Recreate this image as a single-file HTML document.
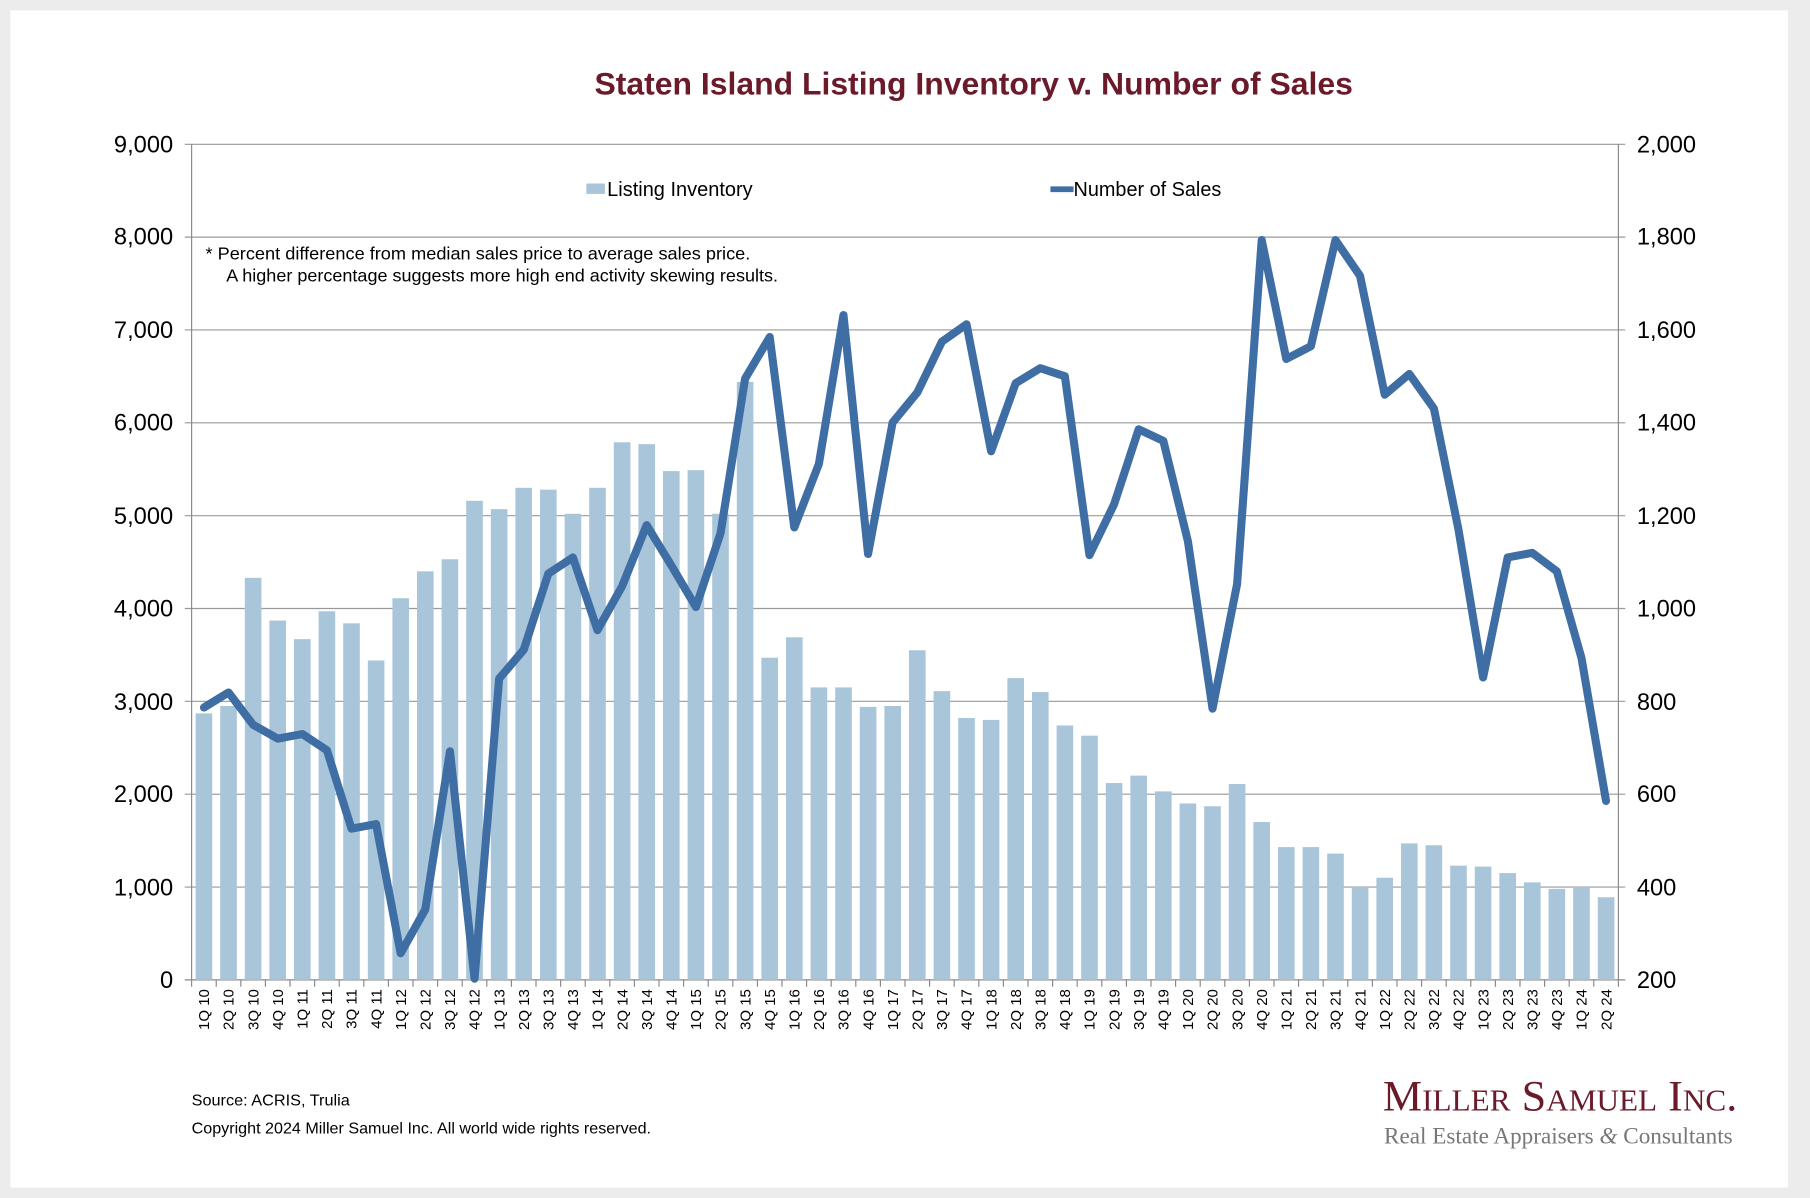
<!DOCTYPE html>
<html><head><meta charset="utf-8"><style>
html,body{margin:0;padding:0;background:#ececec;}
svg{display:block;}
text{font-family:"Liberation Sans",Arial,sans-serif;}
</style></head><body>
<svg id="s" width="1810" height="1198" viewBox="0 0 1568 1038" preserveAspectRatio="none" xmlns="http://www.w3.org/2000/svg">
<rect x="0" y="0" width="1568" height="1038" fill="#ececec"/>
<rect x="9" y="9" width="1540" height="1020" fill="#ffffff"/>
<text x="515" y="82" font-size="27.5" font-weight="bold" fill="#6b1a2a" textLength="657" lengthAdjust="spacingAndGlyphs">Staten Island Listing Inventory v. Number of Sales</text>
<g id="grid" stroke="#888" stroke-width="1"></g>
<g id="bars" fill="#a9c5da"></g>
<polyline id="ln" fill="none" stroke="#3f6ea4" stroke-width="7" stroke-linejoin="round" stroke-linecap="round"/>
<g font-size="20.5" fill="#000" text-anchor="end">
<text x="150" y="132">9,000</text><text x="150" y="212">8,000</text><text x="150" y="293">7,000</text><text x="150" y="373">6,000</text><text x="150" y="454">5,000</text><text x="150" y="534">4,000</text><text x="150" y="615">3,000</text><text x="150" y="695">2,000</text><text x="150" y="776">1,000</text><text x="150" y="856">0</text>
</g>
<g font-size="20.5" fill="#000">
<text x="1418" y="132">2,000</text><text x="1418" y="212">1,800</text><text x="1418" y="293">1,600</text><text x="1418" y="373">1,400</text><text x="1418" y="454">1,200</text><text x="1418" y="534">1,000</text><text x="1418" y="615">800</text><text x="1418" y="695">600</text><text x="1418" y="776">400</text><text x="1418" y="856">200</text>
</g>
<rect x="508" y="159" width="16" height="9" fill="#a9c5da"/>
<text x="526" y="170" font-size="17.3" textLength="126" lengthAdjust="spacingAndGlyphs">Listing Inventory</text>
<line x1="910" y1="164" x2="930" y2="164" stroke="#3f6ea4" stroke-width="5"/>
<text x="930" y="170" font-size="17.3" textLength="128" lengthAdjust="spacingAndGlyphs">Number of Sales</text>
<text x="178" y="225" font-size="15" textLength="472" lengthAdjust="spacingAndGlyphs">*  Percent difference from median sales price to average sales price.</text>
<text x="196" y="244" font-size="15" textLength="478" lengthAdjust="spacingAndGlyphs">A higher percentage suggests more high end activity skewing results.</text>
<g id="xl" font-size="13" text-anchor="end">
<text>1Q 10</text><text>2Q 10</text><text>3Q 10</text><text>4Q 10</text><text>1Q 11</text><text>2Q 11</text><text>3Q 11</text><text>4Q 11</text><text>1Q 12</text><text>2Q 12</text><text>3Q 12</text><text>4Q 12</text><text>1Q 13</text><text>2Q 13</text><text>3Q 13</text><text>4Q 13</text><text>1Q 14</text><text>2Q 14</text><text>3Q 14</text><text>4Q 14</text><text>1Q 15</text><text>2Q 15</text><text>3Q 15</text><text>4Q 15</text><text>1Q 16</text><text>2Q 16</text><text>3Q 16</text><text>4Q 16</text><text>1Q 17</text><text>2Q 17</text><text>3Q 17</text><text>4Q 17</text><text>1Q 18</text><text>2Q 18</text><text>3Q 18</text><text>4Q 18</text><text>1Q 19</text><text>2Q 19</text><text>3Q 19</text><text>4Q 19</text><text>1Q 20</text><text>2Q 20</text><text>3Q 20</text><text>4Q 20</text><text>1Q 21</text><text>2Q 21</text><text>3Q 21</text><text>4Q 21</text><text>1Q 22</text><text>2Q 22</text><text>3Q 22</text><text>4Q 22</text><text>1Q 23</text><text>2Q 23</text><text>3Q 23</text><text>4Q 23</text><text>1Q 24</text><text>2Q 24</text>
</g>
<text x="166" y="958" font-size="13.5" textLength="137" lengthAdjust="spacingAndGlyphs">Source: ACRIS, Trulia</text>
<text x="166" y="982" font-size="13.5" textLength="398" lengthAdjust="spacingAndGlyphs">Copyright 2024 Miller Samuel Inc.  All world wide rights reserved.</text>
<text x="1198" y="962" font-size="38" fill="#6b1a2a" style="font-family:'Liberation Serif',serif;font-variant:small-caps;" textLength="307" lengthAdjust="spacingAndGlyphs">Miller Samuel Inc.</text>
<text x="1199" y="991" font-size="20" fill="#777" style="font-family:'Liberation Serif',serif;" textLength="302" lengthAdjust="spacingAndGlyphs">Real Estate Appraisers <tspan font-style="italic">&amp;</tspan> Consultants</text>
</svg>
<script>
var NS="http://www.w3.org/2000/svg";
var L=166,R=1402,T=125,B=849,n=58,w=(R-L)/n;
var g=document.getElementById("grid");
function ln(x1,y1,x2,y2,c){var e=document.createElementNS(NS,"line");e.setAttribute("x1",x1);e.setAttribute("y1",y1);e.setAttribute("x2",x2);e.setAttribute("y2",y2);if(c)e.setAttribute("stroke",c);g.appendChild(e);}
for(var k=0;k<=9;k++){var y=T+(B-T)*k/9;ln(L-6,y,R+6,y,k==9?"#888":"#999");}
ln(L,T,L,B);ln(R,T,R,B);
for(var i=0;i<=n;i++){var x=L+w*i;ln(x,B,x,B+6);}
var inv=[2870,2950,4330,3870,3670,3970,3840,3440,4110,4400,4530,5160,5070,5300,5280,5020,5300,5790,5770,5480,5490,5020,6440,3470,3690,3150,3150,2940,2950,3550,3110,2820,2800,3250,3100,2740,2630,2120,2200,2030,1900,1870,2110,1700,1430,1430,1360,1000,1100,1470,1450,1230,1220,1150,1050,980,1000,890];
var ys=[613,600,628,640,636,650,718,714,826,788,651,848,588,563,497,483,546,508,455,490,526,462,328,292,457,402,273,480,366,340,296,281,391,332,319,326,481,437,372,382,469,614,506,208,311,300,208,239,342,324,354,459,587,483,479,495,570,694];
var bg=document.getElementById("bars"),pts=[];
var lbl=document.getElementById("xl").getElementsByTagName("text");
for(var i=0;i<n;i++){
 var cx=L+w*(i+0.5),h=inv[i]/9000*(B-T);
 var r=document.createElementNS(NS,"rect");r.setAttribute("x",cx-7.2);r.setAttribute("y",B-h);r.setAttribute("width",14.4);r.setAttribute("height",h);bg.appendChild(r);
 pts.push(cx.toFixed(1)+","+ys[i]);
 var t=lbl[i];t.setAttribute("x",cx+4.5);t.setAttribute("y",857);t.setAttribute("transform","rotate(-90 "+(cx+4.5)+" 857)");
}
document.getElementById("ln").setAttribute("points",pts.join(" "));
</script>
</body></html>
